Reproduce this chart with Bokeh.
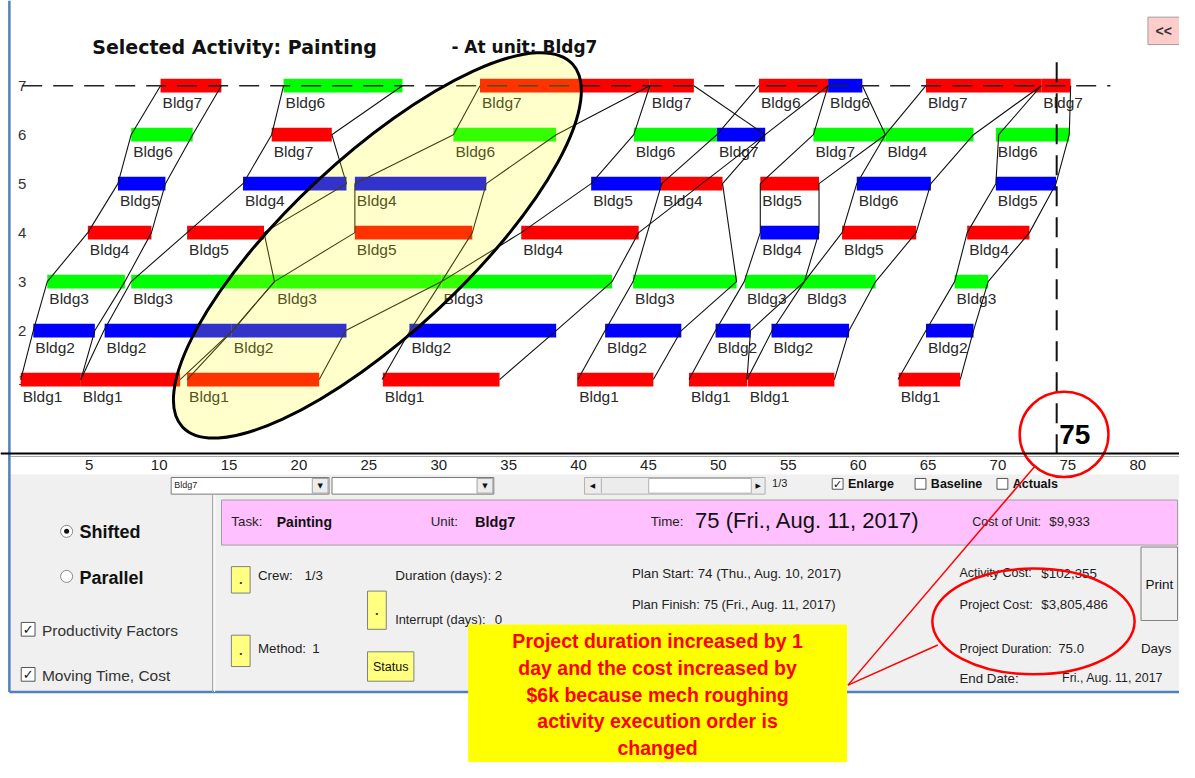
from bokeh.plotting import figure
from bokeh.models import Range1d, LinearAxis, FixedTicker, ColumnDataSource
from bokeh.core.properties import value
from bokeh.embed import file_html
from bokeh.resources import INLINE

# ---------------- data ----------------
# one bar per (sequence row, activity crew); days on x
bar_row = [1, 1, 1, 1, 1, 1, 1, 1,
           2, 2, 2, 2, 2, 2, 2, 2,
           3, 3, 3, 3, 3, 3, 3, 3,
           4, 4, 4, 4, 4, 4, 4,
           5, 5, 5, 5, 5, 5, 5, 5,
           6, 6, 6, 6, 6, 6, 6, 6,
           7, 7, 7, 7, 7, 7, 7, 7]
bar_start = [0.1, 4.4, 12.0, 26.0, 39.9, 47.9, 52.1, 62.9,
             1.0, 6.1, 15.2, 27.9, 41.9, 49.8, 53.8, 64.85,
             2.0, 8.0, 18.3, 30.2, 43.9, 51.9, 56.2, 66.9,
             4.9, 12.0, 24.0, 35.9, 53.0, 58.85, 67.8,
             7.05, 16.0, 24.0, 40.9, 45.9, 53.0, 59.9, 69.85,
             8.0, 18.05, 31.05, 43.95, 49.9, 56.8, 61.95, 69.85,
             10.1, 18.9, 32.95, 45.1, 52.9, 57.85, 64.85, 73.1]
bar_end = [4.4, 11.5, 21.45, 34.35, 45.35, 52.05, 58.3, 67.3,
           5.4, 15.2, 23.4, 38.4, 47.35, 52.3, 59.35, 68.25,
           7.55, 18.3, 30.2, 42.4, 51.3, 56.2, 61.25, 69.3,
           9.45, 17.5, 32.4, 44.3, 57.2, 64.15, 72.25,
           10.45, 23.4, 33.4, 45.9, 50.3, 57.2, 65.2, 74.15,
           12.4, 22.35, 38.4, 49.9, 53.35, 61.95, 68.25, 75.1,
           14.45, 27.4, 45.1, 48.25, 57.85, 60.3, 73.1, 75.2]
bar_code = ("RRRRRRRR" "BBBBBBBB" "GGGGGGGG" "RRRRBRR"
            "BBBBRRBB" "GRGGBGGG" "RGRRRBRR")
bar_unit = (["Bldg1"] * 8 + ["Bldg2"] * 8 + ["Bldg3"] * 8 +
            ["Bldg4", "Bldg5", "Bldg5", "Bldg4", "Bldg4", "Bldg5", "Bldg4"] +
            ["Bldg5", "Bldg4", "Bldg4", "Bldg5", "Bldg4", "Bldg5", "Bldg6", "Bldg5"] +
            ["Bldg6", "Bldg7", "Bldg6", "Bldg6", "Bldg7", "Bldg7", "Bldg4", "Bldg6"] +
            ["Bldg7", "Bldg6", "Bldg7", "Bldg7", "Bldg6", "Bldg6", "Bldg7", "Bldg7"])

# crew movement lines: (row, day) chains
crew_paths = [
    [(7, 10.1), (6, 8.0), (5, 7.05), (4, 4.9), (3, 2.0), (2, 1.0), (1, 0.1)],
    [(7, 14.45), (6, 12.4), (5, 10.45), (4, 9.45), (3, 7.55), (2, 5.4), (1, 4.4)],
    [(7, 18.9), (6, 18.05), (5, 16.0), (4, 12.0), (3, 8.0), (2, 6.05), (1, 4.4)],
    [(7, 27.4), (6, 22.35), (5, 23.4), (4, 17.5), (3, 18.25), (2, 15.25), (1, 11.5)],
    [(7, 32.95), (6, 31.05), (5, 24.0), (4, 24.0), (3, 18.25), (2, 15.25), (1, 12.0)],
    [(7, 45.1), (6, 38.4), (5, 33.4), (4, 32.4), (3, 30.2), (2, 23.35), (1, 21.45)],
    [(7, 45.1), (6, 43.95), (5, 40.9), (4, 35.9), (3, 30.2), (2, 27.95), (1, 25.95)],
    [(1, 34.35), (2, 38.4), (3, 42.4), (4, 44.3), (6, 53.35), (7, 48.25)],
    [(1, 39.95), (2, 41.9), (3, 43.9), (5, 45.95), (6, 49.9), (7, 52.9)],
    [(1, 45.35), (2, 47.35), (3, 51.3), (5, 50.3), (6, 53.35), (7, 57.85)],
    [(1, 47.9), (2, 49.8), (3, 51.85), (4, 53.0), (5, 53.0), (6, 56.8), (7, 57.85)],
    [(1, 52.05), (2, 52.3), (3, 56.15), (4, 57.2), (5, 57.2), (6, 61.95), (7, 60.3)],
    [(1, 52.05), (2, 53.85), (3, 56.15), (4, 58.85), (5, 59.9), (6, 61.95), (7, 64.85)],
    [(1, 58.3), (2, 59.35), (3, 61.25), (4, 64.15), (5, 65.2), (6, 68.25), (7, 73.1)],
    [(1, 62.85), (2, 64.85), (3, 66.9), (4, 67.8), (5, 69.85), (6, 70.05), (7, 73.1)],
    [(1, 67.3), (2, 68.25), (3, 69.3), (4, 72.25), (5, 74.15), (6, 75.1), (7, 75.2)],
]

rows = [1, 2, 3, 4, 5, 6, 7]
tick_days = [5, 10, 15, 20, 25, 30, 35, 40, 45, 50, 55, 60, 65, 70, 75, 80]
project_end_day = 74.2
project_duration_label = "75"

annotation_lines = ["Project duration increased by 1",
                    "day and the cost increased by",
                    "$6k because mech roughing",
                    "activity execution order is",
                    "changed"]

# ---------------- geometry / styles ----------------
COLORS = {"R": "#ff0000", "G": "#00ff00", "B": "#0000ff"}
W, H = 1179, 762            # figure size (fits the 1195x778 window with margins)
REF_W, REF_H = 1195, 778    # layout grid of the picture
SX, SY = W / REF_W, H / REF_H
X0, DX = 19.1, 14.17        # grid pixel of day 0, grid pixels per day
Y1, DY = 387.0, 50.0        # grid pixel of row 1, grid pixels per row


def day_of(px):
    return (px - X0) / DX


def row_of(py):
    return 1 + (Y1 - py) / DY


SANS = value("Liberation Sans")
DEJA = value("DejaVu Sans")

p = figure(width=W, height=H, output_backend="svg", toolbar_location=None,
           x_axis_type=None, y_axis_type=None, title=None, min_border=0,
           x_range=Range1d(day_of(0), day_of(REF_W)),
           y_range=Range1d(row_of(REF_H), row_of(0)))
p.outline_line_color = None
p.background_fill_color = "white"
p.border_fill_color = "white"
p.extra_x_ranges = {"px": Range1d(0, REF_W)}
p.extra_y_ranges = {"px": Range1d(REF_H, 0)}

PX = dict(x_range_name="px", y_range_name="px")


def box(x0, y0, x1, y1, fill, line=None, lw=1.0, alpha=1.0):
    p.quad(left=[x0], right=[x1], top=[y0], bottom=[y1], fill_color=fill,
           fill_alpha=alpha, line_color=line, line_width=lw, **PX)


def txt(x, y, s, size=13.3, bold=False, color="#1e1e1e", align="left", font=SANS):
    p.text(x=[x], y=[y], text=[s], text_font=font, text_font_size=f"{size}px",
           text_font_style="bold" if bold else "normal", text_color=color,
           text_align=align, text_baseline="middle", **PX)


def seg(x0, y0, x1, y1, color="#000", lw=1.0, dash="solid"):
    p.segment(x0=[x0], y0=[y0], x1=[x1], y1=[y1], line_color=color,
              line_width=lw, line_dash=dash, **PX)


def oval(x, y, w, h, angle=0.0, **kw):
    p.ellipse(x=[x], y=[y], width=[w * SX], height=[h * SY], angle=angle,
              width_units="screen", height_units="screen", **kw, **PX)


# ---------------- chart ----------------
p.text(x=[day_of(22)] * len(rows), y=rows, text=[str(r) for r in rows],
       text_font=SANS, text_font_size="15px", text_color="#333",
       text_align="center", text_baseline="middle")

src = ColumnDataSource(dict(row=bar_row, start=bar_start, end=bar_end,
                            color=[COLORS[c] for c in bar_code], unit=bar_unit))
p.hbar(y="row", left="start", right="end", height=0.28, fill_color="color",
       line_color=None, source=src)
p.text(x="start", y="row", text="unit", source=src, x_offset=2, y_offset=16.5,
       text_font=SANS, text_font_size="15.5px", text_color="#2a2a2a",
       text_baseline="middle")

p.multi_line(xs=[[d for r, d in path] for path in crew_paths],
             ys=[[r for r, d in path] for path in crew_paths],
             line_color="#111", line_width=1.1)

# dashed guide lines
p.segment(x0=[day_of(22)], y0=[7], x1=[day_of(1125)], y1=[7],
          line_color="#222", line_width=1.5, line_dash="20 11")
p.segment(x0=[project_end_day], y0=[row_of(63)], x1=[project_end_day],
          y1=[row_of(463)], line_color="#111", line_width=2, line_dash="20 11")

seg(10, 465.5, 1195, 465.5, "#a0a0a0", 1)
xaxis = LinearAxis(fixed_location=row_of(463), ticker=FixedTicker(ticks=tick_days))
xaxis.axis_line_width = 2
xaxis.axis_line_color = "black"
xaxis.major_tick_line_color = None
xaxis.minor_tick_line_color = None
xaxis.major_label_text_font = "Liberation Sans"
xaxis.major_label_text_font_size = "15px"
xaxis.major_label_text_color = "#222"
xaxis.major_label_standoff = 0
p.add_layout(xaxis, "below")

# highlight ellipse over the shifted bars
oval(382, 250, 540, 180, angle=0.75, fill_color="yellow", fill_alpha=0.2,
     line_color="black", line_width=3)

# titles
txt(93, 47, "Selected Activity: Painting", 19, True, "#111", font=DEJA)
txt(457, 47, "- At unit: Bldg7", 17, True, "#111", font=DEJA)
box(1163, 17, 1195, 45, "#ffcccc", "#a0a0a0")
txt(1179, 31, "<<", 14, True, "#333", "center")

txt(1073, 443, project_duration_label, 28, True, "black")

# ---------------- control panel ----------------
box(10, 484, 1195, 706, "#f0f0f0", None)
seg(9, 0, 9, 706, "#4f81bd", 2.5)
seg(9, 706, 1195, 706, "#4f81bd", 2.5)

# combo boxes and scroller
box(173, 487, 333, 504, "white", "#7a7a7a")
box(316, 488, 332, 503, "#ececec", "#a0a0a0")
txt(324, 496, "▼", 7, False, "#111", "center", DEJA)
txt(176, 495, "Bldg7", 9)
box(336, 487, 500, 504, "white", "#7a7a7a")
box(483, 488, 499, 503, "#ececec", "#a0a0a0")
txt(491, 496, "▼", 7, False, "#111", "center", DEJA)
box(592, 487, 775, 504, "#ececec", "#b0b0b0")
box(657, 488, 761, 503, "white", "#b0b0b0")
txt(600, 496, "◀", 7, False, "#111", "center", DEJA)
txt(768, 496, "▶", 7, False, "#111", "center", DEJA)
seg(609, 488, 609, 503, "#b0b0b0")
txt(782, 493, "1/3", 11)
for bx, lab, chk in [(843, "Enlarge", True), (927, "Baseline", False), (1010, "Actuals", False)]:
    box(bx, 488, bx + 11, 499, "white", "#555")
    if chk:
        txt(bx + 5.5, 494, "✓", 11, True, "#111", "center", DEJA)
    txt(bx + 16, 494, lab, 12.5, True, "#111")

# left options
p.circle(x=[67, 67], y=[542, 588], radius=6, radius_units="screen",
         fill_color="white", line_color="#888", **PX)
p.circle(x=[67], y=[542], radius=2.5, radius_units="screen",
         fill_color="#111", line_color=None, **PX)
txt(80, 543, "Shifted", 18, True, "#111")
txt(80, 590, "Parallel", 18, True, "#111")
for cy, lab in [(642, "Productivity Factors"), (688, "Moving Time, Cost")]:
    box(21, cy - 7, 35, cy + 7, "white", "#555")
    txt(28, cy, "✓", 13, True, "#111", "center", DEJA)
    txt(42, cy + 1, lab, 15.5, False, "#333")
seg(215, 505, 215, 706, "#a0a0a0")
seg(217, 505, 217, 706, "white")

# activity info bar
box(224, 510, 1193, 556, "#ffc0ff", "#a0a0a0")
txt(234, 532, "Task:")
txt(280, 532, "Painting", 14, True, "#111")
txt(436, 532, "Unit:")
txt(481, 532, "Bldg7", 14.5, True, "#111")
txt(659, 532, "Time:")
txt(704, 531, "75 (Fri., Aug. 11, 2017)", 22, False, "#111")
txt(985, 532, "Cost of Unit:", 12.5)
txt(1063, 532, "$9,933")

# buttons
for x0, y0, x1, y1 in [(234, 578, 253, 605), (372, 603, 391, 642), (234, 648, 253, 680)]:
    box(x0, y0, x1, y1, "#ffff80", "#808080")
    txt((x0 + x1) / 2, (y0 + y1) / 2, ".", 13, True, "#333", "center")
box(372, 665, 419, 695, "#ffff80", "#808080")
txt(395.5, 680, "Status", 12.5, False, "#111", "center")
box(1156, 558, 1193, 633, "#f0f0f0", "#808080")
txt(1174.5, 596, "Print", 13.5, False, "#111", "center")

txt(261, 587, "Crew:")
txt(308, 587, "1/3")
txt(400, 587, "Duration (days):", 13.5)
txt(501, 587, "2")
txt(400, 632, "Interrupt (days):", 12.8)
txt(501, 632, "0")
txt(261, 662, "Method:")
txt(316, 662, "1")
txt(640, 585, "Plan Start: 74 (Thu., Aug. 10, 2017)")
txt(640, 617, "Plan Finish: 75 (Fri., Aug. 11, 2017)", 13)
txt(972, 585, "Activity Cost:", 12.5)
txt(1055, 585, "$102,355")
txt(972, 617, "Project Cost:", 12.8)
txt(1055, 617, "$3,805,486")
txt(972, 662, "Project Duration:", 12.4)
txt(1072, 662, "75.0")
txt(1156, 662, "Days")
txt(972, 692, "End Date:")
txt(1076, 692, "Fri., Aug. 11, 2017", 12.4)

# ---------------- call-out ----------------
oval(1047, 634, 205, 108, fill_color=None, line_color="red", line_width=2.5)
oval(1078, 443, 90, 87, fill_color=None, line_color="red", line_width=2.5)
seg(859, 699, 950, 658, "red", 1.5)
seg(859, 699, 1048, 476, "red", 1.5)
box(474, 637, 858, 778, "#ffff00", None)
for i, line in enumerate(annotation_lines):
    txt(666, 654 + 27.3 * i, line, 19.5, True, "#ff0000", "center")

open("out.html", "w").write(file_html(p, INLINE))
